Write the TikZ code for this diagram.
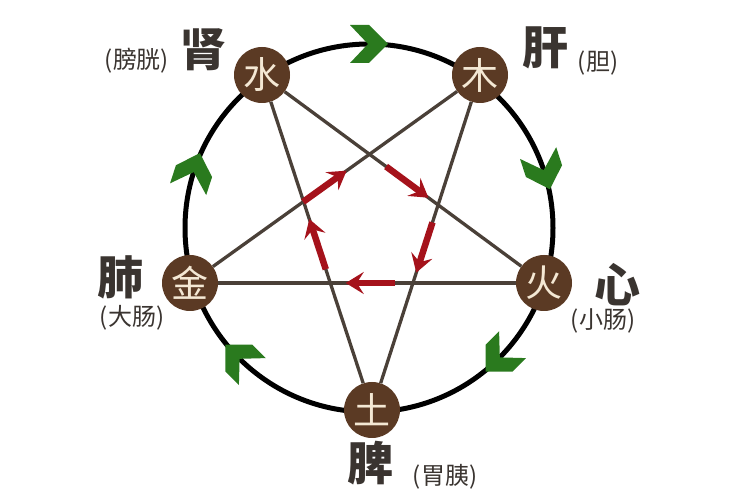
\documentclass[tikz,border=0pt]{standalone}
\usepackage{fontspec}
\newfontfamily\cjk{Noto Sans CJK SC}
\usetikzlibrary{arrows.meta,calc}
\definecolor{nodebrown}{HTML}{5B3A24}
\definecolor{nodetext}{HTML}{F4E8D4}
\definecolor{starline}{HTML}{4A4038}
\definecolor{leafgreen}{HTML}{2A7A1E}
\definecolor{arrowred}{HTML}{A5121B}
\definecolor{labeltext}{HTML}{3A3430}
\tikzset{
  ring/.style={draw=black, line width=5pt},
  elem/.style={circle, fill=nodebrown, minimum size=56pt, inner sep=0pt,
    text=nodetext, font=\cjk\fontsize{37}{37}\selectfont},
  starln/.style={draw=starline, line width=3.3pt},
  kearrow/.style={draw=arrowred, line width=6.5pt,
    -{Stealth[length=18pt, width=22pt, inset=7pt]}},
  chev/.style={fill=leafgreen},
  biglabel/.style={text=labeltext, inner sep=0pt, font=\cjk\bfseries\fontsize{46}{46}\selectfont},
  smalllabel/.style={text=labeltext, inner sep=0pt, font=\cjk\fontsize{24}{24}\selectfont}
}
\begin{document}
\begin{tikzpicture}[x=1pt,y=1pt]
\useasboundingbox (0,0) rectangle (748,501);
\fill[white] (0,0) rectangle (748,501);
\coordinate (O) at (369,273);
\draw[ring] (O) circle[radius=184];
% green chevrons (generating cycle, clockwise)
\foreach \a in {90,18,-45,-135,162}{
  \fill[chev, shift={(O)}, rotate=\a, shift={(184,0)}]
    (0,-19) -- (19,0) -- (19,19) -- (0,1) -- (-19,19) -- (-19,0) -- cycle;
}
% element nodes
\node[elem] (shui) at (262,426) {水};
\node[elem] (mu)   at (480,426) {木};
\node[elem] (huo)  at (544,218) {火};
\node[elem] (tu)   at (372,91)  {土};
\node[elem] (jin)  at (190,218) {金};
% pentagram
\draw[starln] (shui) -- (huo);
\draw[starln] (huo) -- (jin);
\draw[starln] (jin) -- (mu);
\draw[starln] (mu) -- (tu);
\draw[starln] (tu) -- (shui);
% restraining arrows
\draw[kearrow] ($(shui)!0.44!(huo)$) -- ($(shui)!0.59!(huo)$);
\draw[kearrow] ($(mu)!0.44!(tu)$) -- ($(mu)!0.59!(tu)$);
\draw[kearrow] ($(huo)!0.42!(jin)$) -- ($(huo)!0.56!(jin)$);
\draw[kearrow] ($(tu)!0.42!(shui)$) -- ($(tu)!0.57!(shui)$);
\draw[kearrow] ($(jin)!0.39!(mu)$) -- ($(jin)!0.54!(mu)$);
% labels
\node[biglabel] (shen) at (203,451) {肾};
\node[smalllabel] (pg) at (137,440) {(膀胱)};
\node[biglabel] (gan) at (545,453) {肝};
\node[smalllabel] (dan) at (598,438) {(胆)};
\node[biglabel] (fei) at (120,224) {肺};
\node[smalllabel] (dac) at (132,183) {(大肠)};
\node[biglabel] (xin) at (617,216) {心};
\node[smalllabel] (xc) at (603,180) {(小肠)};
\node[biglabel] (pi) at (370,38) {脾};
\node[smalllabel] (wy) at (445,24) {(胃胰)};
\end{tikzpicture}
\end{document}
